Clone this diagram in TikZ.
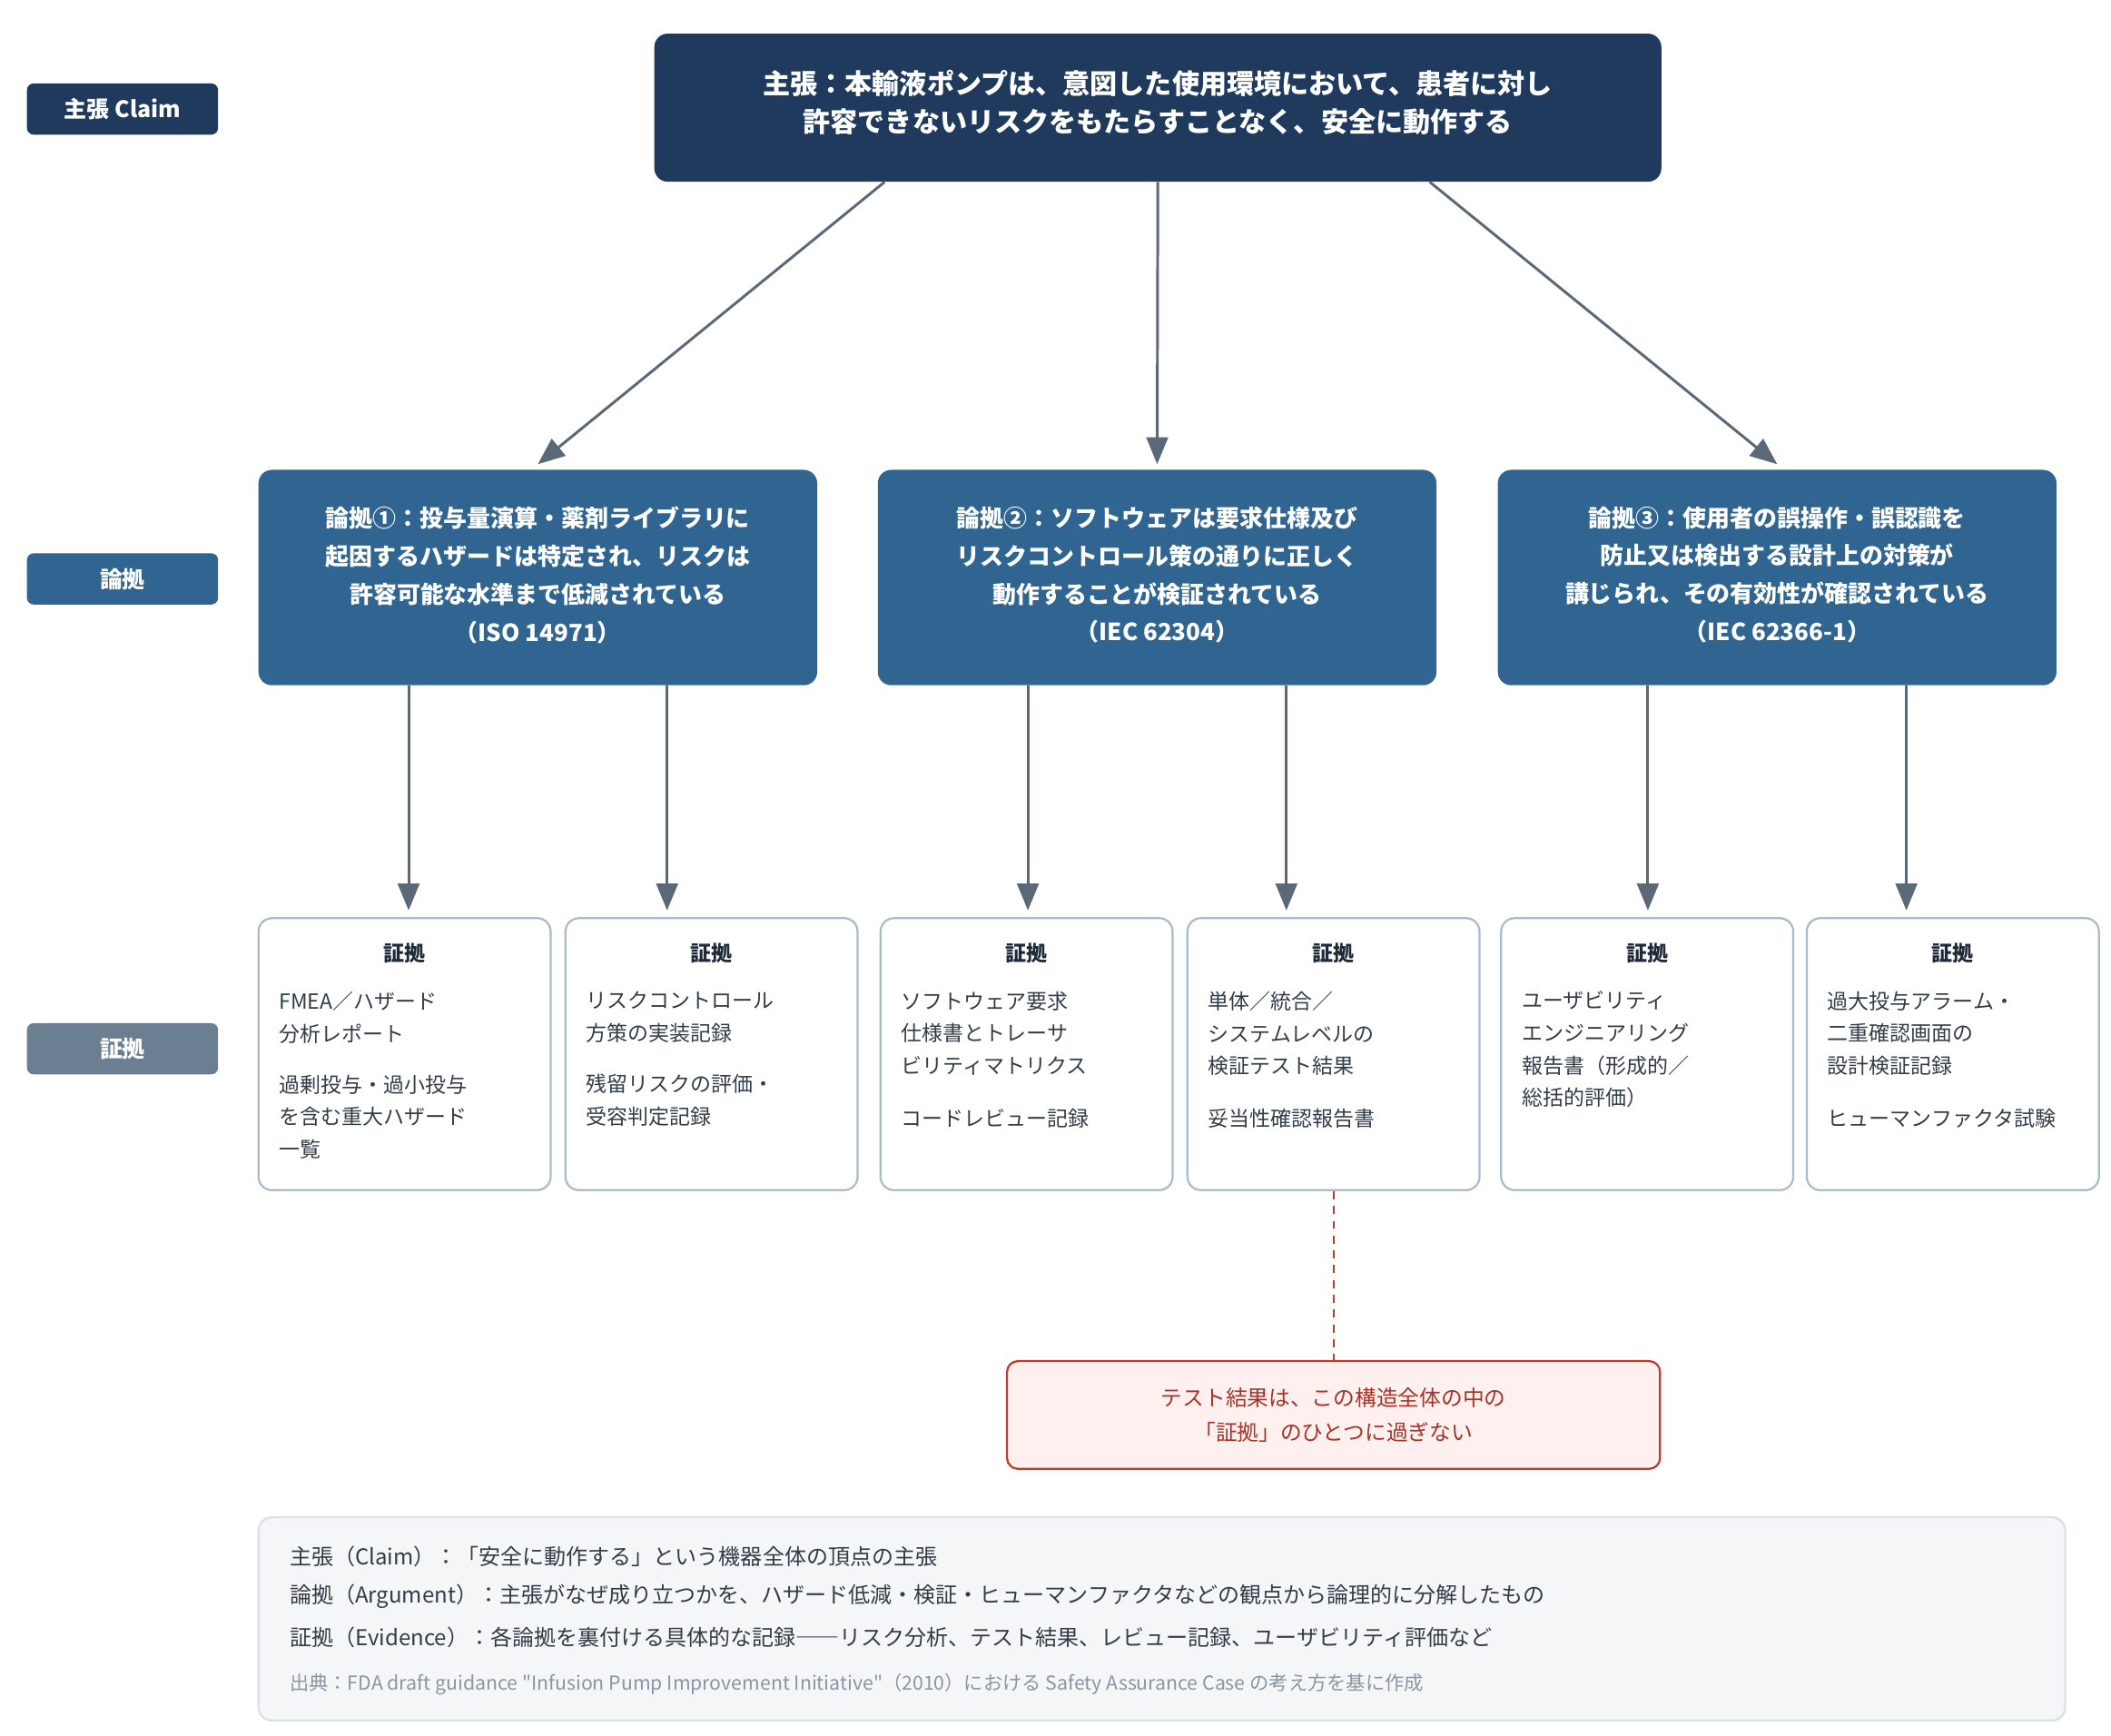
\documentclass[tikz,border=0pt]{standalone}
\usepackage{fontspec}
\newfontfamily\jp{Noto Sans CJK JP}
\usetikzlibrary{arrows.meta,calc}
\definecolor{navy}{HTML}{1F3A5C}
\definecolor{argblue}{HTML}{2F6590}
\definecolor{evlab}{HTML}{6B7E92}
\definecolor{arrowc}{HTML}{5B6877}
\definecolor{evborder}{HTML}{A9BBCC}
\definecolor{evtitlec}{HTML}{1E2A38}
\definecolor{bodyc}{HTML}{333D48}
\definecolor{notered}{HTML}{C0392B}
\definecolor{notefill}{HTML}{FDF0EE}
\definecolor{notetext}{HTML}{A93226}
\definecolor{legfill}{HTML}{F4F6F8}
\definecolor{legborder}{HTML}{D9E0E6}
\definecolor{srcc}{HTML}{8A96A3}
\begin{document}
\begin{tikzpicture}[x=1pt,y=-1pt,
  lab/.style={rounded corners=5pt, text=white, font={\jp\bfseries\fontsize{16.8}{20}\selectfont}, minimum width=142pt, minimum height=38pt, inner sep=0pt},
  claimbox/.style={fill=navy, rounded corners=10pt, minimum width=748pt, minimum height=110pt, inner sep=0pt},
  claimtext/.style={text=white, align=center, font={\jp\bfseries\fontsize{20.3}{28}\selectfont}, inner sep=0pt},
  argbox/.style={fill=argblue, rounded corners=10pt, minimum width=415pt, minimum height=160pt, inner sep=0pt},
  argtext/.style={text=white, align=center, font={\jp\bfseries\fontsize{17.5}{28.3}\selectfont}, inner sep=0pt},
  evbox/.style={draw=evborder, line width=1.5pt, fill=white, rounded corners=10pt, minimum width=217pt, minimum height=202pt, inner sep=0pt},
  evtitle/.style={text=evtitlec, font={\jp\bfseries\fontsize{15.5}{20}\selectfont}, inner sep=0pt},
  evbody/.style={text=bodyc, align=left, anchor=north west, font={\jp\fontsize{15.5}{24}\selectfont}, inner sep=0pt},
  arr/.style={draw=arrowc, line width=2pt, -{Triangle[length=20pt,width=16pt]}},
  notebox/.style={draw=notered, line width=1.5pt, fill=notefill, rounded corners=8pt, text=notetext, align=center, font={\jp\fontsize{16}{26}\selectfont}, minimum width=485pt, minimum height=80pt, inner sep=0pt},
  legbox/.style={draw=legborder, line width=1.5pt, fill=legfill, rounded corners=10pt, minimum width=1342pt, minimum height=151pt, inner sep=0pt},
  legtext/.style={anchor=west, text=bodyc, font={\jp\fontsize{16.2}{20}\selectfont}, inner sep=0pt},
  srctext/.style={anchor=west, text=srcc, font={\jp\fontsize{14.35}{18}\selectfont}, inner sep=0pt}
]
\path[use as bounding box, fill=white] (0,0) rectangle (1568,1289);

% side labels
\node[lab, fill=navy] (labclaim) at (91,81) {主張 Claim};
\node[lab, fill=argblue] (labarg) at (91,430) {論拠};
\node[lab, fill=evlab] (labev) at (91,779) {証拠};

% claim
\node[claimbox] (claim) at (860,80) {};
\node[claimtext] (claimt) at (860,76) {主張：本輸液ポンプは、意図した使用環境において、患者に対し\\許容できないリスクをもたらすことなく、安全に動作する};

% arguments
\node[argbox] (arg1) at (399.5,429) {};
\node[argbox] (arg2) at (859.5,429) {};
\node[argbox] (arg3) at (1320,429) {};
\node[argtext] (arg1t) at (399.5,427) {論拠①：投与量演算・薬剤ライブラリに\\起因するハザードは特定され、リスクは\\許容可能な水準まで低減されている\\（ISO 14971）};
\node[argtext] (arg2t) at (859.5,427) {論拠②：ソフトウェアは要求仕様及び\\リスクコントロール策の通りに正しく\\動作することが検証されている\\（IEC 62304）};
\node[argtext] (arg3t) at (1320,427) {論拠③：使用者の誤操作・誤認識を\\防止又は検出する設計上の対策が\\講じられ、その有効性が確認されている\\（IEC 62366-1）};

% evidence boxes
\node[evbox] (ev1) at (300.5,783) {};
\node[evbox] (ev2) at (528.5,783) {};
\node[evbox] (ev3) at (762.5,783) {};
\node[evbox] (ev4) at (990.5,783) {};
\node[evbox] (ev5) at (1223.5,783) {};
\node[evbox] (ev6) at (1450.5,783) {};

\foreach \e in {ev1,ev2,ev3,ev4,ev5,ev6}{
  \node[evtitle] (\e t) at ($(\e.north)+(0,27)$) {証拠};
}
\node[evbody] (ev1b) at ($(ev1.north west)+(16,55)$) {FMEA／ハザード\\分析レポート\\[14pt]過剰投与・過小投与\\を含む重大ハザード\\一覧};
\node[evbody] (ev2b) at ($(ev2.north west)+(16,55)$) {リスクコントロール\\方策の実装記録\\[14pt]残留リスクの評価・\\受容判定記録};
\node[evbody] (ev3b) at ($(ev3.north west)+(16,55)$) {ソフトウェア要求\\仕様書とトレーサ\\ビリティマトリクス\\[15pt]コードレビュー記録};
\node[evbody] (ev4b) at ($(ev4.north west)+(16,55)$) {単体／統合／\\システムレベルの\\検証テスト結果\\[15pt]妥当性確認報告書};
\node[evbody] (ev5b) at ($(ev5.north west)+(16,55)$) {ユーザビリティ\\エンジニアリング\\報告書（形成的／\\総括的評価）};
\node[evbody] (ev6b) at ($(ev6.north west)+(16,55)$) {過大投与アラーム・\\二重確認画面の\\設計検証記録\\[15pt]ヒューマンファクタ試験};

% arrows claim -> arguments
\draw[arr] ($(claim.south)+(-203,0)$) -- ($(arg1.north)+(0,-4)$);
\draw[arr] (claim.south) -- ($(arg2.north)+(0,-4)$);
\draw[arr] ($(claim.south)+(202,0)$) -- ($(arg3.north)+(0,-4)$);

% arrows arguments -> evidence
\draw[arr] ($(arg1.south)+(-96,0)$) -- ($(arg1.south |- ev1.north)+(-96,-5)$);
\draw[arr] ($(arg1.south)+(96,0)$) -- ($(arg1.south |- ev2.north)+(96,-5)$);
\draw[arr] ($(arg2.south)+(-96,0)$) -- ($(arg2.south |- ev3.north)+(-96,-5)$);
\draw[arr] ($(arg2.south)+(96,0)$) -- ($(arg2.south |- ev4.north)+(96,-5)$);
\draw[arr] ($(arg3.south)+(-96,0)$) -- ($(arg3.south |- ev5.north)+(-96,-5)$);
\draw[arr] ($(arg3.south)+(96,0)$) -- ($(arg3.south |- ev6.north)+(96,-5)$);

% note
\node[notebox] (note) at (990.5,1051) {テスト結果は、この構造全体の中の\\「証拠」のひとつに過ぎない};
\draw[notered, line width=1.5pt, dash pattern=on 6pt off 5pt] (ev4.south) -- (note.north);

% legend
\node[legbox] (leg) at (863,1202.5) {};
\node[legtext] (leg1) at (215,1156) {主張（Claim）：「安全に動作する」という機器全体の頂点の主張};
\node[legtext] (leg2) at (215,1186) {論拠（Argument）：主張がなぜ成り立つかを、ハザード低減・検証・ヒューマンファクタなどの観点から論理的に分解したもの};
\node[legtext] (leg3) at (215,1216) {証拠（Evidence）：各論拠を裏付ける具体的な記録――リスク分析、テスト結果、レビュー記録、ユーザビリティ評価など};
\node[srctext] (leg4) at (215,1251) {出典：FDA draft guidance "Infusion Pump Improvement Initiative"（2010）における Safety Assurance Case の考え方を基に作成};
\end{tikzpicture}
\end{document}
